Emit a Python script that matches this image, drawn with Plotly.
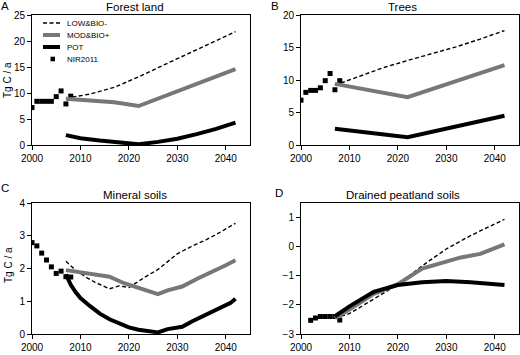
import plotly.graph_objects as go

# ---------------- data ----------------
nir_years = [2000, 2001, 2002, 2003, 2004, 2005, 2006, 2007, 2008]
nir_forest = [7.2, 8.4, 8.4, 8.4, 8.4, 9.3, 10.4, 7.9, 9.4]
nir_trees = [6.9, 8.1, 8.4, 8.4, 8.8, 9.9, 11.0, 8.5, 9.9]
nir_mineral = [2.79, 2.69, 2.47, 2.26, 2.05, 1.85, 1.92, 1.75, 1.74]
nir_peat_years = [2002, 2003, 2004, 2005, 2006, 2007, 2008]
nir_peat = [-2.53, -2.45, -2.40, -2.40, -2.40, -2.40, -2.52]

# Forest land
fl_low_years = [2007, 2012, 2017, 2022, 2027, 2032, 2037, 2042]
fl_low = [9.0, 9.8, 11.1, 13.1, 15.3, 17.5, 19.6, 21.8]
fl_mod_years = [2007, 2012, 2017, 2022, 2027, 2032, 2037, 2042]
fl_mod = [8.9, 8.6, 8.2, 7.5, 9.3, 11.0, 12.8, 14.6]
fl_pot_years = [2007, 2010, 2014, 2018, 2022, 2026, 2030, 2034, 2038, 2042]
fl_pot = [1.9, 1.3, 0.85, 0.5, 0.15, 0.6, 1.2, 2.1, 3.1, 4.3]

# Trees
tr_low_years = [2007, 2012, 2017, 2022, 2027, 2032, 2037, 2042]
tr_low = [9.2, 10.6, 11.9, 13.0, 14.0, 15.1, 16.3, 17.6]
tr_mod_years = [2007, 2022, 2042]
tr_mod = [9.4, 7.35, 12.3]
tr_pot_years = [2007, 2022, 2042]
tr_pot = [2.5, 1.2, 4.5]

# Mineral soils
ms_low_years = [2007, 2009, 2011, 2013, 2016, 2018, 2020, 2022, 2024, 2026, 2028, 2030, 2033, 2036, 2039, 2042]
ms_low = [2.22, 1.95, 1.75, 1.58, 1.38, 1.47, 1.42, 1.62, 1.80, 1.97, 2.22, 2.45, 2.68, 2.88, 3.12, 3.38]
ms_mod_years = [2007, 2010, 2013, 2016, 2019, 2022, 2026, 2028, 2031, 2034, 2037, 2040, 2042]
ms_mod = [1.95, 1.88, 1.82, 1.75, 1.55, 1.40, 1.22, 1.33, 1.45, 1.68, 1.88, 2.10, 2.25]
ms_pot_years = [2007, 2008, 2009, 2010, 2012, 2014, 2016, 2018, 2020, 2022, 2024, 2026, 2028, 2031, 2033, 2035, 2037, 2039, 2041, 2042]
ms_pot = [1.82, 1.50, 1.28, 1.10, 0.85, 0.62, 0.45, 0.32, 0.20, 0.13, 0.08, 0.05, 0.15, 0.22, 0.38, 0.52, 0.68, 0.82, 0.95, 1.08]

# Drained peatland soils
dp_low_years = [2007, 2010, 2013, 2016, 2020, 2025, 2030, 2035, 2042]
dp_low = [-2.45, -2.30, -2.00, -1.70, -1.30, -0.66, -0.08, 0.38, 0.94]
dp_mod_years = [2007, 2010, 2015, 2020, 2025, 2030, 2033, 2037, 2042]
dp_mod = [-2.45, -2.16, -1.62, -1.29, -0.75, -0.50, -0.37, -0.25, 0.08]
dp_pot_years = [2007, 2010, 2015, 2020, 2025, 2030, 2035, 2042]
dp_pot = [-2.39, -2.05, -1.55, -1.32, -1.22, -1.18, -1.22, -1.32]

series_names = ["LOW&BIO-", "MOD&BIO+", "POT", "NIR2011"]
panel_titles = ["Forest land", "Trees", "Mineral soils", "Drained peatland soils"]
panel_letters = ["A", "B", "C", "D"]
y_title = "Tg C / a"
x_ticks = [2000, 2010, 2020, 2030, 2040]

# ---------------- styling ----------------
FONT = "Liberation Sans, Arial, sans-serif"
NARROW = "Liberation Sans Narrow, Liberation Sans, Arial, sans-serif"
GRAY = "#777777"
W, H = 520, 355
ML, MR, MT, MB = 32, 1, 15, 21
PW, PH = W - ML - MR, H - MT - MB


def pxx(p):
    return (p - ML) / PW


def pxy(p):
    return (H - MB - p) / PH


fig = go.Figure()

panels = [
    ("x", "y", nir_years, nir_forest, fl_low_years, fl_low, fl_mod_years, fl_mod, fl_pot_years, fl_pot),
    ("x2", "y2", nir_years, nir_trees, tr_low_years, tr_low, tr_mod_years, tr_mod, tr_pot_years, tr_pot),
    ("x3", "y3", nir_years, nir_mineral, ms_low_years, ms_low, ms_mod_years, ms_mod, ms_pot_years, ms_pot),
    ("x4", "y4", nir_peat_years, nir_peat, dp_low_years, dp_low, dp_mod_years, dp_mod, dp_pot_years, dp_pot),
]

for xa, ya, nx, ny, lx, ly, mx, my, px_, py_ in panels:
    fig.add_trace(go.Scatter(x=nx, y=ny, mode="markers", name=series_names[3],
                             marker=dict(symbol="square", size=5, color="black"),
                             xaxis=xa, yaxis=ya, showlegend=False))
    fig.add_trace(go.Scatter(x=lx, y=ly, mode="lines", name=series_names[0],
                             line=dict(color="black", width=1.4, dash="4px,2.5px"),
                             xaxis=xa, yaxis=ya, showlegend=False))
    fig.add_trace(go.Scatter(x=mx, y=my, mode="lines", name=series_names[1],
                             line=dict(color=GRAY, width=4),
                             xaxis=xa, yaxis=ya, showlegend=False))
    fig.add_trace(go.Scatter(x=px_, y=py_, mode="lines", name=series_names[2],
                             line=dict(color="black", width=4),
                             xaxis=xa, yaxis=ya, showlegend=False))

# domains in pixels
left_dom = [pxx(32), pxx(250)]
right_dom = [pxx(301), pxx(519)]
top_dom = [pxy(145), pxy(15)]
bot_dom = [pxy(334), pxy(203)]

axis_common = dict(showline=True, linecolor="black", linewidth=1, mirror=True,
                   ticks="outside", ticklen=4, tickwidth=1, tickcolor="black",
                   showgrid=False, zeroline=False,
                   tickfont=dict(family=FONT, size=10, color="black"))

xcommon = dict(axis_common, range=[2000, 2045], tickvals=x_ticks)

fig.update_layout(
    width=W, height=H,
    margin=dict(l=ML, r=MR, t=MT, b=MB, pad=0),
    paper_bgcolor="white", plot_bgcolor="white",
    font=dict(family=FONT, color="black"),
    showlegend=False,
    xaxis=dict(xcommon, domain=left_dom, anchor="y"),
    yaxis=dict(axis_common, domain=top_dom, anchor="x", range=[0, 25], tickvals=[0, 5, 10, 15, 20, 25]),
    xaxis2=dict(xcommon, domain=right_dom, anchor="y2"),
    yaxis2=dict(axis_common, domain=top_dom, anchor="x2", range=[0, 20], tickvals=[0, 5, 10, 15, 20]),
    xaxis3=dict(xcommon, domain=left_dom, anchor="y3"),
    yaxis3=dict(axis_common, domain=bot_dom, anchor="x3", range=[0, 4], tickvals=[0, 1, 2, 3, 4]),
    xaxis4=dict(xcommon, domain=right_dom, anchor="y4"),
    yaxis4=dict(axis_common, domain=bot_dom, anchor="x4", range=[-3, 1.5], tickvals=[-3, -2, -1, 0, 1]),
)

ann = []
# panel titles
title_pos = [(135, 7), (402, 7), (135, 195), (403, 195)]
for t, (x, y) in zip(panel_titles, title_pos):
    ann.append(dict(text=t, x=pxx(x), y=pxy(y), xref="paper", yref="paper",
                    xanchor="center", yanchor="middle", showarrow=False,
                    font=dict(family=FONT, size=11.5, color="black")))
# panel letters
letter_pos = [(5, 6), (275, 6), (5, 188), (279, 193)]
for t, (x, y) in zip(panel_letters, letter_pos):
    ann.append(dict(text=t, x=pxx(x), y=pxy(y), xref="paper", yref="paper",
                    xanchor="center", yanchor="middle", showarrow=False,
                    font=dict(family=FONT, size=11.5, color="black")))
# y axis titles
for y in (80, 265):
    ann.append(dict(text=y_title, x=pxx(8), y=pxy(y), xref="paper", yref="paper",
                    xanchor="center", yanchor="middle", showarrow=False, textangle=-90,
                    font=dict(family=NARROW, size=10, color="black")))

# legend inside panel A (drawn in axis-domain coordinates)
def dx(p):
    return (p - 32) / 218


def dy(p):
    return (145 - p) / 130


rows = [23, 35, 47, 59]
shapes = []
styles = [dict(color="black", width=1.4, dash="4px,2.5px"),
          dict(color=GRAY, width=4),
          dict(color="black", width=4)]
for i, st in enumerate(styles):
    shapes.append(dict(type="line", xref="x domain", yref="y domain",
                       x0=dx(43), x1=dx(60), y0=dy(rows[i]), y1=dy(rows[i]), line=st))
shapes.append(dict(type="rect", xref="x domain", yref="y domain",
                   x0=dx(50.5), x1=dx(55), y0=dy(rows[3] + 2.3), y1=dy(rows[3] - 2.3),
                   fillcolor="black", line=dict(width=0)))
for i, name in enumerate(series_names):
    ann.append(dict(text=name, x=dx(65), y=dy(rows[i]), xref="x domain", yref="y domain",
                    xanchor="left", yanchor="middle", showarrow=False,
                    font=dict(family=NARROW, size=8, color="black")))

fig.update_layout(annotations=ann, shapes=shapes)
fig.write_html("out.html",
               config={"displayModeBar": False},
               post_script="document.body.style.margin='0';document.body.style.overflow='hidden';")
